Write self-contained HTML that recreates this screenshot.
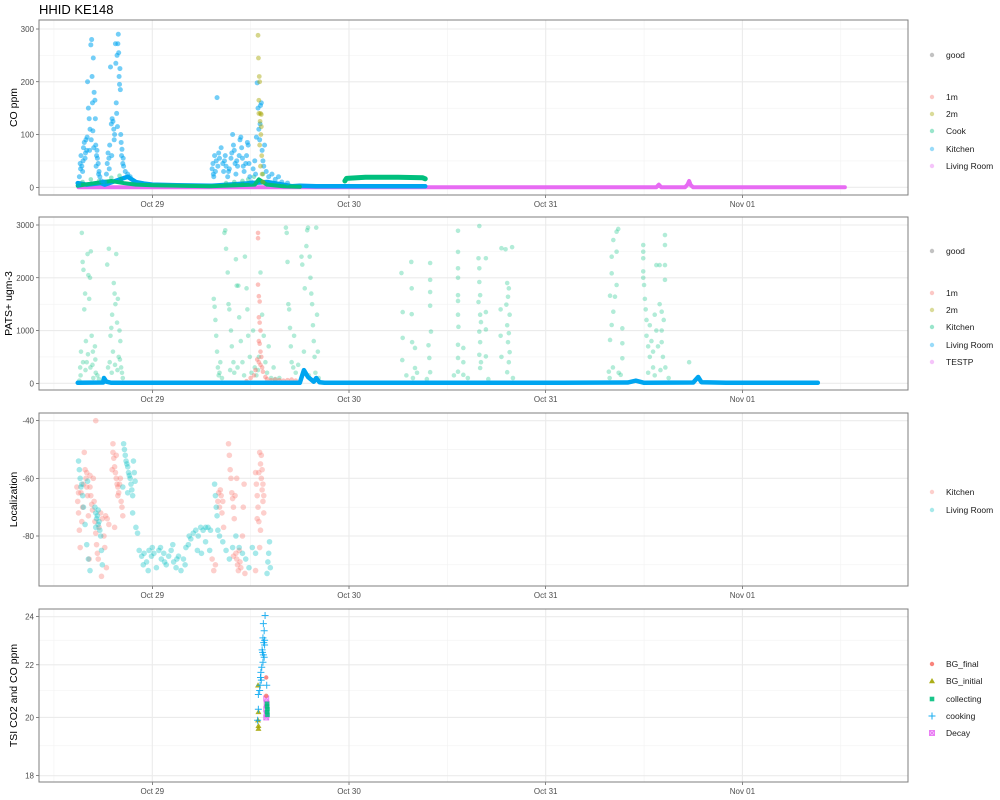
<!DOCTYPE html>
<html><head><meta charset="utf-8">
<style>
html,body{margin:0;padding:0;background:#fff;}
svg{display:block;font-family:"Liberation Sans",sans-serif;}
</style></head>
<body>
<svg id="chart" width="1000" height="800" viewBox="0 0 1000 800">
<text x="39" y="14" font-size="13" fill="#000">HHID KE148</text>
</svg>
<script>
// ---------- data (hours since Oct 29 00:00, values) ----------
const xTickLabels = ["Oct 29","Oct 30","Oct 31","Nov 01"];
const xTickHours = [0,24,48,72];
const xMinorHours = [-12,12,36,60,84];

// Panel 1 CO ppm
const coTicks = [0,100,200,300];
const coSeries = ["1m","2m","Cook","Kitchen","Living Room"];
const coKitchen = [[-9.0,5],[-8.9,20],[-8.8,45],[-8.7,60],[-8.6,40],[-8.5,30],[-8.4,75],[-8.3,85],[-8.2,55],[-8.1,90],[-8.0,70],[-7.9,200],[-7.8,150],[-7.7,130],[-7.6,110],[-7.5,270],[-7.4,280],[-7.35,210],[-7.3,160],[-7.25,107],[-7.2,245],[-7.1,180],[-7.0,165],[-6.95,130],[-6.9,80],[-6.8,60],[-6.7,55],[-6.6,45],[-6.5,30],[-6.4,20],[-6.2,12],[-6.0,10],[-8.75,35],[-8.45,50],[-8.15,65],[-7.95,95],[-7.65,70],[-7.45,90],[-7.15,75],[-6.85,40],[-6.75,70],[-6.55,25],
[-5.8,10],[-5.6,25],[-5.5,45],[-5.4,65],[-5.3,55],[-5.2,80],[-5.1,228],[-5.0,120],[-4.9,130],[-4.8,125],[-4.7,110],[-4.6,100],[-4.5,272],[-4.45,235],[-4.4,160],[-4.3,250],[-4.2,272],[-4.15,290],[-4.1,255],[-4.05,210],[-4.0,195],[-3.95,225],[-3.9,185],[-3.85,100],[-3.8,85],[-3.7,72],[-3.6,45],[-3.5,40],[-3.3,30],[-3.0,25],[-2.7,20],[-5.25,35],[-4.95,60],[-4.65,90],[-4.35,140],[-4.25,115],[-3.75,60],[-3.55,55],
[7.9,170],[7.3,35],[7.4,45],[7.5,20],[7.6,60],[7.7,30],[7.8,50],[8.0,40],[8.2,55],[8.4,75],[8.6,45],[8.7,30],[8.9,60],[9.0,40],[9.2,20],[9.4,35],[9.6,55],[9.7,65],[9.8,100],[9.9,80],[10.0,70],[10.1,45],[10.2,25],[10.4,40],[10.6,60],[10.7,90],[10.8,95],[10.9,75],[11.0,55],[11.2,30],[11.4,45],[11.5,60],[11.6,85],[11.7,80],[11.8,45],[11.9,20],[12.1,10],[12.3,35],[12.5,50],[12.7,95],[12.8,198],[12.9,150],[13.0,110],[13.1,90],[13.2,155],[13.3,160],[13.4,70],[13.5,50],[13.6,40],[13.7,80],[13.9,30],[14.2,20],[14.6,25],[15.0,15],[15.4,20],[15.8,10],[16.5,8],[7.45,25],[8.1,65],[8.8,50],[9.3,30],[10.3,50],[11.1,40],[12.6,25],[13.15,120]];
const co2m = [[12.9,288],[12.95,245],[13.05,210],[13.1,200],[13.0,165],[13.2,140],[13.15,125],[13.3,115],[13.25,100],[13.1,80],[13.35,60],[13.2,40],[13.4,25],[13.5,10],[13.0,140],[13.3,138]];
const coCookPts = [[-8.5,10],[-7.5,15],[-6.5,12],[-5,18],[-4,22],[-3.8,15],[9,8],[10,10],[11,12],[12.4,20],[13.5,25],[11.7,15]];
const coKitchenLine = [[-9.1,8],[-8,5],[-6.3,8],[-5.8,5],[-3,20],[-2,10],[-1,7],[0,5],[3,4],[7,3],[7.3,3],[14,10],[16,5],[17,2],[18,3],[20,2],[24,2],[33.3,2]];
const coCookLine = [[-9.1,3],[-7,8],[-5,12],[-3.5,8],[-2,5],[0,4],[7,2],[12.5,5],[13,15],[14,5],[16,2],[18,1]];
const coCookLine2 = [[23.5,12],[23.7,17],[26,19],[30,19],[33,18],[33.3,16]];
const coLivingLine = [[-9,0],[18,0],[61.5,0],[61.8,5],[62.1,0],[65,0],[65.3,5],[65.5,12],[65.7,4],[66,0],[84.5,0]];

// Panel 2 PATS+
const patsTicks = [0,1000,2000,3000];
const patsSeries = ["1m","2m","Kitchen","Living Room","TESTP"];
const patsLivingLine = [[-9.1,10],[-6,15],[-5.9,100],[-5.6,30],[-5,10],[18,10],[18.5,250],[19,120],[19.7,30],[20,100],[20.4,20],[21,10],[50,10],[58,15],[59,50],[60,10],[66,15],[66.6,120],[67,20],[70,10],[81.2,10]];
const pats1m = [[12.9,2850],[12.9,2750],[12.9,1870],[13.0,1650],[13.1,1550],[13.0,1250],[13.1,1150],[13.2,1000],[13.0,800],[13.1,750],[13.2,600],[13.3,500],[12.8,450],[13.0,400],[13.2,350],[13.4,300],[12.6,250],[13.5,220],[12.4,150],[13.8,120],[14,80],[14.5,60],[15,70],[15.5,60],[16,50],[16.5,60],[17,70],[17.5,50],[11.5,40],[12,100]];
const patsKitchen = [[-8.9,50],[-8.8,300],[-8.7,600],[-8.6,2850],[-8.5,2300],[-8.4,2150],[-8.3,1400],[-8.2,1700],[-8.1,800],[-8.0,400],[-7.9,2450],[-7.8,2050],[-7.7,1600],[-7.6,2000],[-7.5,2500],[-7.4,900],[-7.3,350],[-7.2,100],[-7.0,700],[-6.9,200],[-6.7,150],[-6.5,80],[-6.0,50],[-5.5,2250],[-5.3,2550],[-5.2,400],[-5.1,900],[-5.0,1050],[-4.9,1300],[-4.8,600],[-4.7,1900],[-4.6,1700],[-4.5,1500],[-4.4,2450],[-4.3,1150],[-4.2,1600],[-4.1,500],[-4.0,1000],[-3.9,800],[-3.8,300],[-3.7,200],[-3.6,100],[-8.75,150],[-8.45,400],[-8.15,250],[-7.85,550],[-7.55,300],[-7.25,600],[-6.95,450],[-5.4,300],[-4.95,200],[-4.55,350],[-4.25,250],[-3.95,450],
[7.5,1600],[7.6,1450],[7.7,1200],[7.8,900],[7.9,600],[8.0,300],[8.1,150],[8.3,400],[8.5,100],[8.8,2850],[8.9,2900],[9.0,2550],[9.2,2100],[9.3,1500],[9.4,1400],[9.6,1000],[9.7,700],[9.9,400],[10.0,200],[10.2,2350],[10.3,1850],[10.5,1850],[10.6,1250],[10.8,800],[11.0,400],[11.3,2400],[11.5,1800],[11.6,1400],[11.7,900],[11.9,500],[12.1,200],[12.3,1000],[12.5,300],[12.7,150],[13.2,2100],[13.4,1300],[13.6,900],[13.8,400],[14.0,200],[14.2,700],[14.5,100],[15,80],[15.5,100],[16.3,2950],[16.4,2850],[16.5,2300],[16.6,1500],[16.7,1400],[16.8,1050],[16.9,700],[17.0,400],[17.2,300],[17.5,200],[17.8,350],[18.2,2400],[18.3,2250],[18.6,1800],[18.8,2600],[18.9,2900],[19.0,2950],[19.2,2400],[19.3,2000],[19.4,1700],[19.5,1500],[19.6,1100],[19.7,800],[19.8,500],[19.9,200],[20.0,2950],[20.1,1300],[20.2,600],[20.3,100],[8.2,200],[9.5,250],[10.4,300],[11.2,150],[12.9,250],[13.0,500],[14.8,300],[17.3,900],[18.5,600],[19.1,150],
[30.4,2090],[30.55,1350],[30.55,860],[30.5,440],[31.6,2300],[31.65,1800],[31.65,1310],[31.7,780],[32.05,670],[32.05,290],[33.9,2280],[33.9,1960],[33.9,1730],[33.9,1470],[34.0,980],[33.7,720],[33.8,480],[33.9,210],[31.0,150],[31.8,100],[32.3,200],[33.5,80],
[37.3,2890],[37.3,2490],[37.3,2180],[37.3,2000],[37.3,1670],[37.3,1560],[37.3,1300],[37.35,1070],[37.3,730],[37.3,480],[37.3,220],[37.95,670],[37.95,400],[37.95,160],[39.9,2980],[39.8,2370],[39.9,2180],[39.9,1920],[40.0,1670],[39.8,1540],[40.0,1300],[40.1,1160],[39.9,980],[40.0,780],[39.9,540],[40.1,400],[40.0,290],[40.7,2370],[40.7,1350],[40.7,1020],[40.7,510],[42.6,2560],[43.1,2540],[43.9,2580],[43.3,1900],[43.5,1800],[43.4,1640],[43.2,1490],[43.6,1300],[43.3,1100],[43.5,950],[43.4,780],[43.6,590],[43.5,400],[43.3,210],[42.5,1400],[42.5,900],[42.6,500],[38.5,100],[41,80],[44,100],[36.8,150],
[55.7,220],[55.85,1660],[55.85,821],[56.05,2399],[56.05,2084],[56.05,1105],[56.25,1357],[56.45,1641],[56.65,2873],[56.65,2494],[56.65,1863],[56.85,2925],[56.25,2715],[57.35,1042],[57.35,758],[57.35,474],[57.15,160],[55.8,100],[56.2,300],[56.9,200],
[59.9,2620],[59.9,2494],[59.9,2370],[59.9,2120],[59.9,2000],[60.0,1863],[60.1,1600],[60.2,1400],[60.3,1200],[60.3,900],[60.5,700],[60.7,500],[60.7,1100],[60.9,800],[61.1,600],[61.1,300],[61.3,1300],[61.5,2240],[61.5,1000],[61.7,700],[61.9,2240],[61.9,1500],[62.15,1357],[62.15,1000],[62.15,780],[62.3,500],[62.55,2810],[62.55,2620],[62.55,2240],[62.55,1960],[62.4,1200],[62.6,300],[60.5,200],[61.3,150],[62.0,250],[65.5,400],[63,100]];

// Panel 3 Localization
const locTicks = [-40,-60,-80];
const locSeries = ["Kitchen","Living Room"];
const locKitchen = [[-9.2,-63],[-9.1,-68],[-9.0,-72],[-8.9,-78],[-8.8,-84],[-8.7,-65],[-8.6,-75],[-8.5,-70],[-8.3,-51],[-8.2,-57],[-8.1,-60],[-8.0,-63],[-7.9,-66],[-7.8,-73],[-7.7,-88],[-7.6,-63],[-7.5,-66],[-7.4,-69],[-7.3,-71],[-7.2,-60],[-7.1,-68],[-7.0,-75],[-6.9,-40],[-6.9,-79],[-6.8,-83],[-6.7,-86],[-6.5,-77],[-6.3,-72],[-6.1,-74],[-5.9,-80],[-5.8,-84],[-5.6,-91],[-5.5,-74],[-5.3,-76],[-8.4,-62],[-8.0,-58],[-7.6,-59],[-9.0,-65],[-6.6,-88],[-6.2,-94],[-5.7,-73],
[-4.9,-57],[-4.8,-48],[-4.8,-51],[-4.7,-53],[-4.6,-56],[-4.5,-58],[-4.4,-60],[-4.3,-62],[-4.2,-63],[-4.1,-65],[-4.0,-62],[-3.9,-60],[-3.8,-68],[-3.7,-70],[-3.6,-73],[-4.6,-77],[-4.2,-66],[-4.4,-52],
[7.3,-88],[7.5,-92],[7.7,-90],[8.0,-68],[8.1,-65],[8.2,-70],[8.3,-64],[8.4,-66],[8.5,-72],[8.6,-68],[8.7,-77],[9.3,-48],[9.4,-52],[9.5,-57],[9.6,-60],[9.7,-65],[9.8,-67],[9.9,-70],[10.0,-74],[10.1,-66],[10.2,-86],[10.3,-88],[10.4,-90],[10.5,-92],[10.6,-85],[10.7,-89],[10.8,-91],[11.0,-80],[11.1,-70],[11.2,-62],[11.3,-93],[9.9,-87],[10.3,-60],
[12.6,-58],[12.7,-62],[12.8,-66],[12.9,-70],[13.0,-58],[13.1,-51],[13.2,-55],[13.3,-60],[13.4,-64],[13.5,-68],[13.6,-72],[13.0,-75],[13.2,-78],[12.8,-74],[13.4,-57],[13.5,-62],[12.6,-92],[13.1,-84],[13.3,-52],[13.6,-66]];
const locLiving = [[-9.0,-54],[-8.9,-57],[-8.8,-60],[-8.7,-63],[-8.5,-66],[-8.4,-70],[-8.2,-76],[-8.0,-83],[-7.8,-88],[-7.6,-92],[-7.9,-61],[-8.6,-62],
[-7.0,-70],[-6.9,-72],[-6.8,-74],[-6.7,-73],[-6.6,-76],[-6.5,-75],[-6.4,-78],[-6.3,-80],[-6.2,-85],[-6.1,-90],[-6.9,-77],[-6.6,-71],
[-3.5,-48],[-3.4,-50],[-3.3,-52],[-3.2,-54],[-3.1,-55],[-3.0,-56],[-2.9,-58],[-2.8,-59],[-2.7,-60],[-2.6,-62],[-2.5,-64],[-2.4,-66],[-2.3,-54],[-2.2,-58],[-2.1,-61],[-3.6,-63],[-3.0,-65],[-2.4,-72],[-2.0,-77],[-1.8,-79],
[-1.6,-85],[-1.3,-87],[-1.0,-86],[-0.7,-89],[-0.4,-85],[-0.1,-87],[0.2,-86],[0.5,-91],[0.8,-85],[1.1,-88],[1.4,-86],[1.7,-90],[2.0,-87],[2.3,-85],[2.6,-89],[2.9,-91],[3.2,-87],[3.5,-92],[3.8,-88],[4.1,-84],[4.4,-83],[4.7,-81],[5.0,-79],[5.3,-78],[5.6,-80],[5.9,-77],[6.2,-78],[6.5,-77],[6.8,-77],[7.1,-78],[-1.1,-90],[0.0,-84],[1.0,-84],[2.5,-83],[3.0,-88],[4.5,-80],[5.5,-85],[6.0,-86],[6.5,-82],[7.0,-85],[-0.5,-92],[1.5,-89],[4.0,-90],
[7.6,-62],[7.7,-66],[7.8,-70],[7.9,-73],[8.0,-78],[8.2,-80],[8.6,-82],[9.0,-85],[9.4,-88],[9.8,-84],[10.2,-80],[10.6,-84],[11.0,-86],[11.4,-88],[11.8,-91],[12.2,-84],[12.6,-86],[14.3,-82],[14.2,-86],[14.1,-89],[14.4,-91],[14.0,-93]];

// Panel 4 TSI
const tsiTicks = [18,20,22,24];
const tsiSeries = ["BG_final","BG_initial","collecting","cooking","Decay"];
const tsiCooking = [[13.76,24.05],[13.55,23.7],[13.65,23.4],[13.5,23.1],[13.6,22.9],[13.7,22.8],[13.45,22.5],[13.55,22.4],[13.65,22.3],[13.5,22.1],[13.35,21.9],[13.25,21.7],[13.2,21.5],[13.3,21.4],[13.15,21.2],[13.1,21.0],[12.94,20.85],[12.94,20.3],[12.85,19.9],[13.96,21.2],[13.4,22.6],[13.7,23.0]];
const tsiBGinitial = [[12.9,21.2],[12.95,20.2],[12.9,19.9],[12.95,19.7],[12.95,19.6]];
const tsiBGfinal = [[13.9,21.5],[13.9,20.8]];
const tsiCollecting = [[14.0,20.5],[14.0,20.4],[14.05,20.3],[14.0,20.2],[14.05,20.1]];
const tsiDecay = [[13.9,20.7],[13.95,20.5],[13.9,20.3],[13.95,20.1],[13.9,20.0]];

// ---------- rendering ----------
const svg = document.getElementById('chart');
const NS = 'http://www.w3.org/2000/svg';
const X0 = 39, X1 = 908;
const xScale = h => 152.3 + h * 8.196;
function mk(tag, attrs, parent) {
  const e = document.createElementNS(NS, tag);
  for (const k in attrs) e.setAttribute(k, attrs[k]);
  (parent || svg).appendChild(e);
  return e;
}
const COL = {red:'#F8766D', olive:'#A3A500', green:'#00BF7D', blue:'#00A5F0', mag:'#E76BF3', teal:'#00BFC4', grey:'#999999'};

function drawFrame(p) {
  const g = mk('g', {});
  
  
  p.yMinor.forEach(v => { const y = p.y(v); mk('line', {x1:X0, x2:X1, y1:y, y2:y, stroke:'#f2f2f2', 'stroke-width':0.6}, g); });
  xMinorHours.forEach(h => { const x = xScale(h); mk('line', {x1:x, x2:x, y1:p.top, y2:p.bot, stroke:'#f2f2f2', 'stroke-width':0.6}, g); });
  p.ticks.forEach(v => {
    const y = p.y(v);
    mk('line', {x1:X0, x2:X1, y1:y, y2:y, stroke:'#ebebeb', 'stroke-width':1.1}, g);
    mk('line', {x1:X0-3, x2:X0, y1:y, y2:y, stroke:'#333', 'stroke-width':0.6}, g);
    const t = mk('text', {x:X0-5, y:y+3, 'font-size':8, fill:'#4d4d4d', 'text-anchor':'end'}, g);
    t.textContent = v;
    
    
  });
  xTickHours.forEach((h, i) => {
    const x = xScale(h);
    mk('line', {x1:x, x2:x, y1:p.top, y2:p.bot, stroke:'#ebebeb', 'stroke-width':1.1}, g);
    mk('line', {x1:x, x2:x, y1:p.bot, y2:p.bot+3, stroke:'#333', 'stroke-width':0.6}, g);
    const t = mk('text', {x:x, y:p.bot+12, 'font-size':8, fill:'#4d4d4d', 'text-anchor':'middle'}, g);
    t.textContent = xTickLabels[i];
    
    
  });
  const cy = (p.top + p.bot) / 2;
  const at = mk('text', {x:0, y:0, 'font-size':10.5, fill:'#000', 'text-anchor':'middle', transform:`translate(${p.titleX || 17},${cy}) rotate(-90)`});
  at.textContent = p.title;
  
  
  return g;
}
function drawBorder(p) {
  const r = mk('rect', {x:X0, y:p.top, width:X1-X0, height:p.bot-p.top, fill:'none', stroke:'#7f7f7f', 'stroke-width':1});
  
  
}
function points(p, data, color, r, op, name) {
  const g = mk('g', {fill:color, 'fill-opacity':op});
  
  
  data.forEach(d => {
    mk('circle', {cx:xScale(d[0]), cy:p.y(d[1]), r:r}, g);
  });
}
function line(p, data, color, w, op, name) {
  const pl = mk('polyline', {points:data.map(d => xScale(d[0]) + ',' + p.y(d[1])).join(' '), fill:'none', stroke:color, 'stroke-width':w, 'stroke-opacity':op, 'stroke-linejoin':'round', 'stroke-linecap':'round'});
  
  
}
function legend(items, y0) {
  const g = mk('g', {});
  
  
  items.forEach((it, i) => {
    const y = y0[i];
    const e = mk('g', {}, g);
    
    
    drawMarker(e, it.shape || 'circle', 932, y, it.color, it.op);
    const t = mk('text', {x:946, y:y+3, 'font-size':8.5, fill:'#1a1a1a'}, e);
    t.textContent = it.label;
  });
}
function drawMarker(g, shape, x, y, color, op) {
  if (shape === 'circle') mk('circle', {cx:x, cy:y, r:2.2, fill:color, 'fill-opacity':op}, g);
  else if (shape === 'tri') mk('polygon', {points:`${x},${y-3} ${x-3},${y+2.2} ${x+3},${y+2.2}`, fill:color, 'fill-opacity':op}, g);
  else if (shape === 'square') mk('rect', {x:x-2.3, y:y-2.3, width:4.6, height:4.6, fill:color, 'fill-opacity':op}, g);
  else if (shape === 'plus') { mk('path', {d:`M${x-3.5},${y}H${x+3.5}M${x},${y-3.5}V${y+3.5}`, stroke:color, 'stroke-width':1, 'stroke-opacity':op, fill:'none'}, g); }
  else if (shape === 'xsq') { mk('rect', {x:x-2.5, y:y-2.5, width:5, height:5, fill:color, 'fill-opacity':0.35, stroke:color, 'stroke-width':0.9, 'stroke-opacity':op}, g);
    mk('path', {d:`M${x-2.5},${y-2.5}L${x+2.5},${y+2.5}M${x-2.5},${y+2.5}L${x+2.5},${y-2.5}`, stroke:color, 'stroke-width':0.9, 'stroke-opacity':op}, g); }
}

// Panel 1
const P1 = {name:'co', top:20, bot:195, title:'CO ppm', titleX:17, ticks:coTicks, yMinor:[50,150,250], y:v => 187.3 - v * (158.3/300)};
drawFrame(P1);
line(P1, coLivingLine, COL.mag, 4, 1, 'living-room-co-line');
line(P1, coKitchenLine, COL.blue, 4.5, 1, 'kitchen-co-line');
line(P1, coCookLine, COL.green, 4, 1, 'cook-co-line');
line(P1, coCookLine2, COL.green, 5, 1, 'cook-co-line-2');
points(P1, coCookPts, COL.green, 2.3, 0.4, 'cook-co-points');
points(P1, coKitchen, COL.blue, 2.5, 0.55, 'kitchen-co-points');
points(P1, co2m, COL.olive, 2.4, 0.45, '2m-co-points');
drawBorder(P1);
legend([{label:'good',color:COL.grey,op:.6},{label:'1m',color:COL.red,op:.4},{label:'2m',color:COL.olive,op:.4},{label:'Cook',color:COL.green,op:.4},{label:'Kitchen',color:COL.blue,op:.4},{label:'Living Room',color:COL.mag,op:.4}],[55,97,114,131,149,166]);

// Panel 2
const P2 = {name:'pats', top:217, bot:390, title:'PATS+ ugm-3', titleX:12, ticks:patsTicks, yMinor:[500,1500,2500], y:v => 383.3 - v * (158.3/3000)};
drawFrame(P2);
points(P2, patsKitchen, COL.green, 2.3, 0.3, 'kitchen-pats-points');
points(P2, pats1m, COL.red, 2.3, 0.45, '1m-pats-points');
line(P2, patsLivingLine, COL.blue, 4.5, 1, 'living-room-pats-line');
drawBorder(P2);
legend([{label:'good',color:COL.grey,op:.6},{label:'1m',color:COL.red,op:.4},{label:'2m',color:COL.olive,op:.4},{label:'Kitchen',color:COL.green,op:.4},{label:'Living Room',color:COL.blue,op:.4},{label:'TESTP',color:COL.mag,op:.4}],[251,293,310,327,345,362]);

// Panel 3
const P3 = {name:'localization', top:413, bot:586, title:'Localization', titleX:17, ticks:locTicks, yMinor:[-50,-70,-90], y:v => 420.7 + (-40 - v) * 2.8825};
drawFrame(P3);
points(P3, locKitchen, COL.red, 2.8, 0.35, 'kitchen-localization-points');
points(P3, locLiving, COL.teal, 2.8, 0.35, 'living-room-localization-points');
drawBorder(P3);
legend([{label:'Kitchen',color:COL.red,op:.35},{label:'Living Room',color:COL.teal,op:.35}],[492,510]);

// Panel 4
const P4 = {name:'tsi', top:609, bot:782, title:'TSI CO2 and CO ppm', titleX:17, ticks:tsiTicks, yMinor:[19,21,23], y:v => 616.7 + (Math.log10(24) - Math.log10(v)) * 1272.6};
drawFrame(P4);
function shapePoints(p, data, shape, color, name) {
  const g = mk('g', {});
  
  
  data.forEach(d => drawMarker(g, shape, xScale(d[0]), p.y(d[1]), color, 0.85));
}
shapePoints(P4, tsiBGinitial, 'tri', COL.olive, 'bg-initial-points');
shapePoints(P4, tsiDecay, 'xsq', COL.mag, 'decay-points');
shapePoints(P4, tsiCollecting, 'square', COL.green, 'collecting-points');
shapePoints(P4, tsiBGfinal, 'circle', COL.red, 'bg-final-points');
shapePoints(P4, tsiCooking, 'plus', COL.blue, 'cooking-points');
drawBorder(P4);
const lg = mk('g', {});


const shapes4 = ['circle','tri','square','plus','xsq'];
const cols4 = [COL.red, COL.olive, COL.green, COL.blue, COL.mag];
const ys4 = [664,681,699,716,733];
tsiSeries.forEach((s, i) => {
  const e = mk('g', {}, lg);
  
  
  drawMarker(e, shapes4[i], 932, ys4[i], cols4[i], 0.9);
  const t = mk('text', {x:946, y:ys4[i]+3, 'font-size':8.5, fill:'#1a1a1a'}, e);
  t.textContent = s;
});
</script>
</body></html>
